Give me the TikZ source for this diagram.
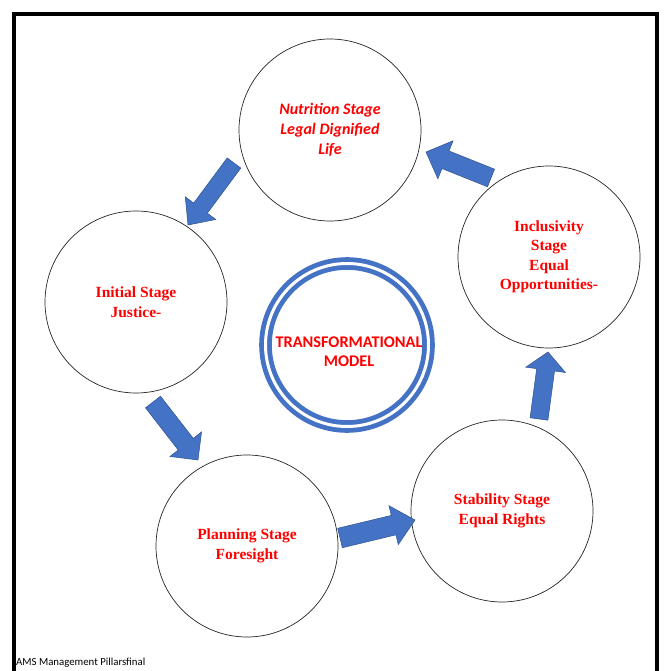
\documentclass[tikz,border=0pt]{standalone}
\usepackage{fontspec}
\setmainfont{Liberation Serif}
\newfontfamily\calfont{Carlito}
\usetikzlibrary{calc}
\definecolor{ablue}{HTML}{4472C4}
\definecolor{aborder}{HTML}{2F528F}
\definecolor{tred}{HTML}{FF0000}
\tikzset{
  stage/.style={circle, draw=black!85, line width=0.7pt, minimum size=182pt, inner sep=0pt,
    align=center, text=tred, font=\bfseries\fontsize{15.5}{19.5}\selectfont},
  stagesans/.style={stage, font=\calfont\bfseries\itshape\fontsize{16}{20}\selectfont},
  barrow/.style={fill=ablue, draw=aborder, line width=0.5pt, line join=miter},
  corering/.style={circle, draw=ablue, double=white, double distance=3pt, line width=4.8pt,
    minimum size=163pt, inner sep=0pt},
  coretext/.style={align=center, text=tred, font=\calfont\bfseries\fontsize{16.3}{19}\selectfont},
  frame/.style={draw=black, line width=4pt},
  foot/.style={anchor=base west, inner sep=0pt, font=\calfont\fontsize{10.8}{12}\selectfont}
}
\newcommand{\blockarrow}[5]{%
  \coordinate (hb) at ($(#2)!#5pt!(#1)$);
  \draw[barrow] ($(#1)!#3pt!90:(#2)$) -- ($(hb)!#3pt!90:(#2)$) -- ($(hb)!#4pt!90:(#2)$)
    -- (#2) -- ($(hb)!#4pt!-90:(#2)$) -- ($(hb)!#3pt!-90:(#2)$) -- ($(#1)!#3pt!-90:(#2)$) -- cycle;
}
\begin{document}
\begin{tikzpicture}[x=1pt,y=-1pt]
\useasboundingbox (0,0) rectangle (663,671);
\fill[white] (0,0) rectangle (663,671);
\draw[frame] (14,690) -- (14,14) -- (657,14) -- (657,690);

\node[stagesans] (nut) at (330,130) {Nutrition Stage\\Legal Dignified\\Life};
\node[stage] (ini) at (136,302) {Initial Stage\\Justice-};
\node[stage] (pla) at (247,546) {Planning Stage\\Foresight};
\node[stage] (sta) at (502,511) {Stability Stage\\Equal Rights};
\node[stage] (inc) at (549,257) {Inclusivity\\Stage\\Equal\\Opportunities-};

\node[corering] (core) at (347,345) {};
\node[coretext] (coretxt) at (349,352) {TRANSFORMATIONAL\\MODEL};

\coordinate (a1s) at (234,163); \coordinate (a1e) at (188,225);
\coordinate (a2s) at (153,402); \coordinate (a2e) at (198,460);
\coordinate (a3s) at (340,538); \coordinate (a3e) at (415,520);
\coordinate (a4s) at (539,419); \coordinate (a4e) at (548,352);
\coordinate (a5s) at (491,178); \coordinate (a5e) at (426,152);
\blockarrow{a1s}{a1e}{8.5}{19}{21}
\blockarrow{a2s}{a2e}{9.5}{20}{20}
\blockarrow{a3s}{a3e}{10}{20}{22}
\blockarrow{a4s}{a4e}{9}{20}{18}
\blockarrow{a5s}{a5e}{9.5}{20.5}{21}

\node[foot] (ams) at (16,665) {AMS Management Pillarsfinal};
\end{tikzpicture}
\end{document}
